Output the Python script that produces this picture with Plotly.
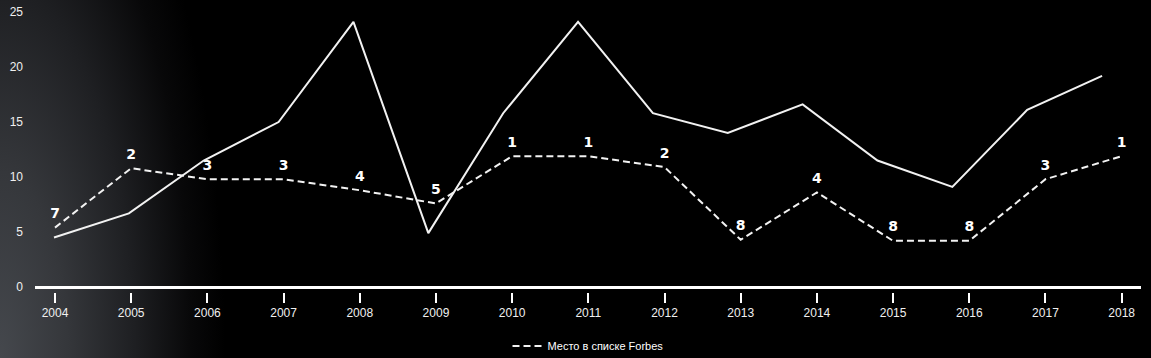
import base64
import plotly.graph_objects as go

years = list(range(2004, 2019))
solid_values = [4.5, 6.7, 11.5, 15.0, 24.1, 4.9, 15.8, 24.1, 15.8, 14.0, 16.6, 11.5, 9.1, 16.1, 19.2]
forbes_values = [5.4, 10.8, 9.8, 9.8, 8.8, 7.6, 11.9, 11.9, 10.9, 4.3, 8.6, 4.2, 4.2, 9.8, 11.9]
forbes_rank = ["7", "2", "3", "3", "4", "5", "1", "1", "2", "8", "4", "8", "8", "3", "1"]
y_ticks = [0, 5, 10, 15, 20, 25]
legend_name = "Место в списке Forbes"

W, H = 1151, 358
ML, MR, MT, MB = 35, 10, 12, 66
PW, PH = W - ML - MR, H - MT - MB

RX, RY = 225, 620
svg = f'''<svg xmlns="http://www.w3.org/2000/svg" width="{W}" height="{H}" viewBox="0 0 {W} {H}" preserveAspectRatio="none">
<defs><radialGradient id="g" cx="0.5" cy="0.5" r="0.5">
<stop offset="0" stop-color="#45484d"/><stop offset="0.3" stop-color="#35373b"/><stop offset="0.6" stop-color="#1e1f22"/><stop offset="0.85" stop-color="#080809"/><stop offset="1" stop-color="#000000"/>
</radialGradient></defs>
<rect x="0" y="0" width="{W}" height="{H}" fill="#000"/>
<rect x="{-RX}" y="{H - RY}" width="{2 * RX}" height="{2 * RY}" fill="url(#g)"/></svg>'''
bg_uri = "data:image/svg+xml;base64," + base64.b64encode(svg.encode()).decode()

fig = go.Figure()
fig.add_trace(go.Scatter(
    x=years, y=solid_values, xaxis="x2", yaxis="y", mode="lines",
    line=dict(color="#f2f2f2", width=2), showlegend=False, hoverinfo="skip"))
fig.add_trace(go.Scatter(
    x=years, y=forbes_values, mode="lines+markers+text", name=legend_name,
    text=forbes_rank, textposition="top center",
    marker=dict(size=8, color="rgba(0,0,0,0)"),
    textfont=dict(family="DejaVu Sans", size=14, color="#ffffff", weight="bold"),
    line=dict(color="#f2f2f2", width=2, dash="7px,4px"), cliponaxis=False))

tick_font = dict(family="Liberation Sans, Arial, sans-serif", size=12, color="#f0f0f0")
fig.update_layout(
    width=W, height=H, autosize=False,
    margin=dict(l=ML, r=MR, t=MT, b=MB, pad=0),
    paper_bgcolor="#000000", plot_bgcolor="rgba(0,0,0,0)",
    xaxis=dict(range=[2003.7375, 2018.254], tickvals=years, ticktext=[str(y) for y in years],
               showgrid=False, zeroline=False, showline=False, ticks="outside", ticklen=10,
               tickwidth=1.5, tickcolor="#ffffff", tickfont=tick_font, automargin=False),
    xaxis2=dict(range=[2003.7462, 2018.520], overlaying="x", visible=False),
    yaxis=dict(range=[-0.45, 25], tickvals=y_ticks, showgrid=False, zeroline=True,
               zerolinecolor="#ffffff", zerolinewidth=3, showline=False, ticks="",
               ticklabelstandoff=11, tickfont=tick_font, automargin=False),
    showlegend=True,
    legend=dict(orientation="h", xref="container", yref="container",
                x=588 / W, y=1 - 346 / H,
                xanchor="center", yanchor="middle",
                font=dict(family="Liberation Sans, Arial, sans-serif", size=11, color="#ffffff"),
                bgcolor="rgba(0,0,0,0)"),
    images=[dict(source=bg_uri, xref="paper", yref="paper", x=-ML / PW, y=1 + MT / PH,
                 sizex=W / PW, sizey=H / PH, sizing="stretch", xanchor="left", yanchor="top",
                 layer="below")],
)
fig.write_html(
    "out.html",
    config={"displayModeBar": False, "responsive": False},
    post_script=("document.documentElement.style.overflow='hidden';"
                 "document.body.style.margin='0px';document.body.style.overflow='hidden';"
                 "document.body.style.background='#000';"),
)
